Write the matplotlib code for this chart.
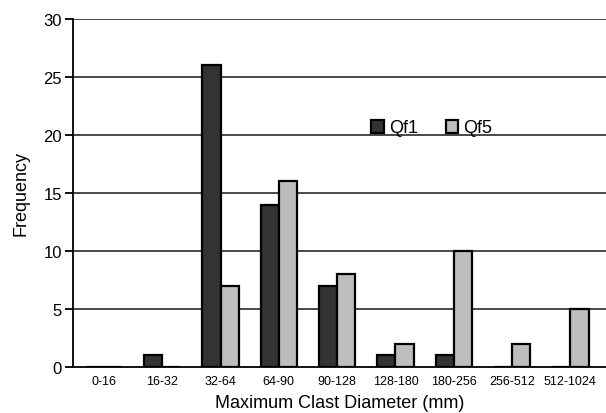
import numpy as np
import matplotlib
matplotlib.use('Agg')
import matplotlib.pyplot as plt

plt.rcParams['font.family'] = ['Liberation Sans', 'DejaVu Sans']

bins = ['0-16', '16-32', '32-64', '64-90', '90-128', '128-180', '180-256', '256-512', '512-1024']
qf1 = [0, 1, 26, 14, 7, 1, 1, 0, 0]
qf5 = [0, 0, 7, 16, 8, 2, 10, 2, 5]

fig = plt.figure(figsize=(6.06, 4.14), dpi=100)
ax = fig.add_axes([73/606, 1-368/414, (606-73)/606, (368-20)/414])

x = np.arange(len(bins))
w = 0.31
ax.bar(x - w/2, qf1, w, color='#333333', edgecolor='black', linewidth=1.6, label='Qf1', zorder=3)
ax.bar(x + w/2, qf5, w, color='#bdbdbd', edgecolor='black', linewidth=1.6, label='Qf5', zorder=3)

ax.set_xlim(-0.53, 8.61)
ax.set_ylim(0, 30)
ax.set_yticks(range(0, 31, 5))
for v in range(5, 31, 5):
    ax.axhline(v, color='#3a3a3a', linewidth=1.3, zorder=1)

ax.set_xticks(x)
ax.set_xticklabels(bins, fontsize=9)
ax.tick_params(axis='x', length=0, pad=6)
ax.tick_params(axis='y', length=6, width=1.3, labelsize=12, pad=2)
for s in ['top', 'right']:
    ax.spines[s].set_visible(False)
ax.spines['left'].set_linewidth(1.3)
ax.spines['bottom'].set_linewidth(1.3)

ax.set_ylabel('Frequency', fontsize=13, labelpad=10)
ax.set_xlabel('Maximum Clast Diameter (mm)', fontsize=13, labelpad=5)

leg = ax.legend(loc='center', bbox_to_anchor=((432-73)/533, (368-129)/348), ncol=2,
                frameon=False, fontsize=13, handlelength=0.7, handleheight=0.7,
                handletextpad=0.3, columnspacing=1.5)

plt.savefig('out.png', dpi=100)
